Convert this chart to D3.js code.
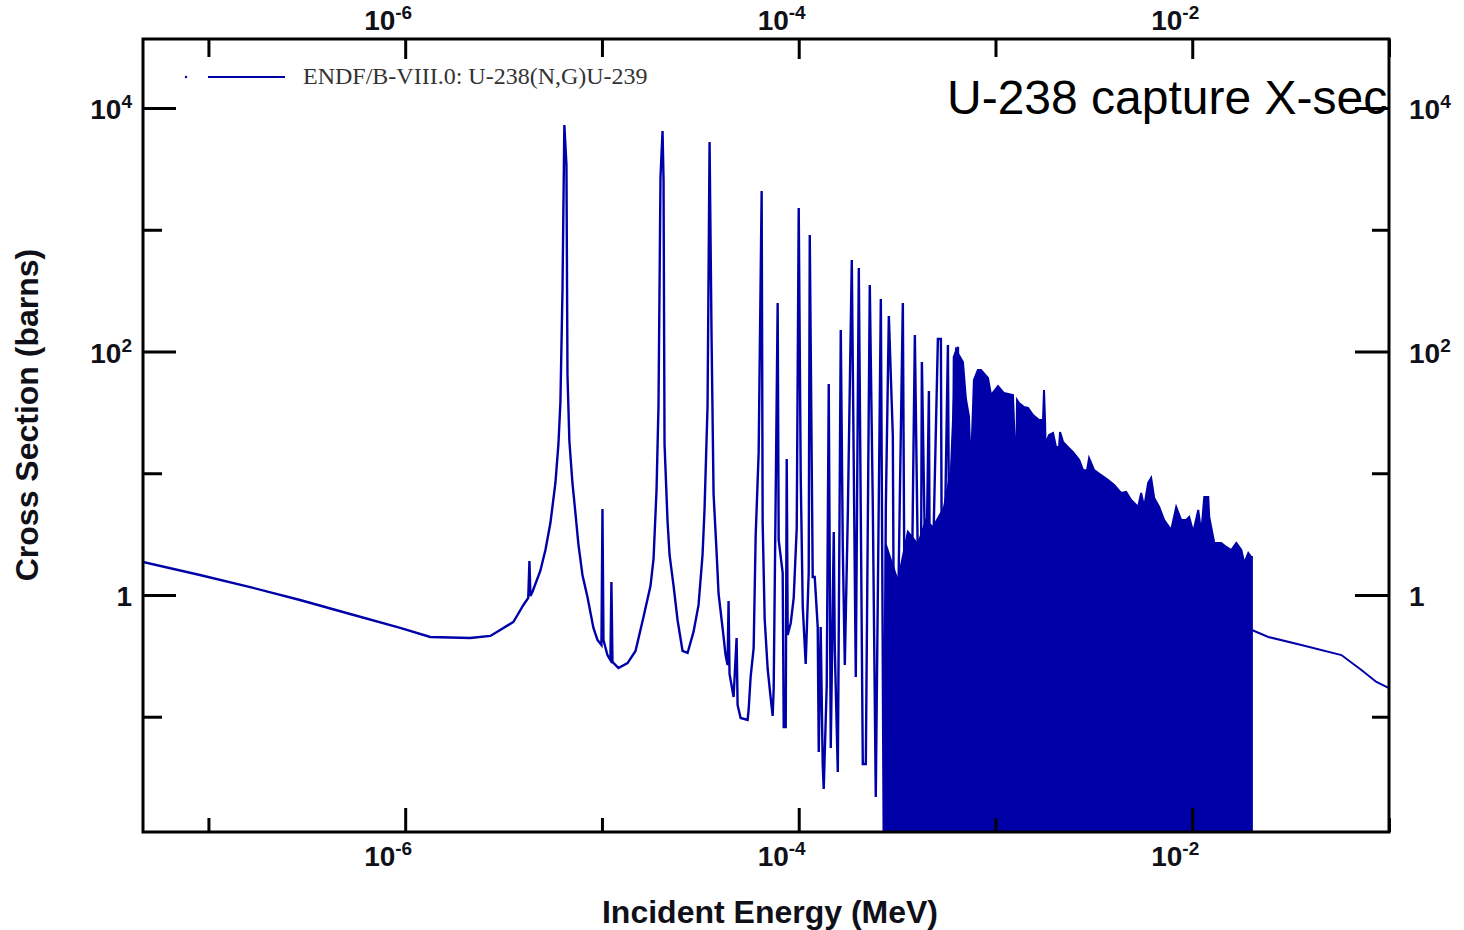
<!DOCTYPE html>
<html>
<head>
<meta charset="utf-8">
<script src="https://cdn.jsdelivr.net/npm/d3@7"></script>
<style>
  body { margin: 0; background: #fff; }
  svg { display: block; }
</style>
</head>
<body>
<script>
//Width and height
var w = 1464;
var h = 930;

//Resolved part: incident energy (MeV) and capture cross section (barns)
var lineEnergy = [
  4.64e-8, 9.05e-8, 1.63e-7, 2.92e-7, 5.25e-7, 9.43e-7, 1.34e-6, 2.14e-6, 2.71e-6,
  3.545e-6, 3.99e-6, 4.22e-6, 4.28e-6, 4.33e-6, 4.43e-6, 4.86e-6, 5.16e-6, 5.47e-6, 5.80e-6,
  6.01e-6, 6.15e-6, 6.30e-6, 6.44e-6, 6.60e-6, 6.68e-6, 6.83e-6, 7.08e-6, 7.33e-6, 7.59e-6,
  7.96e-6, 8.44e-6, 9.05e-6, 9.49e-6, 9.94e-6, 1.006e-5, 1.018e-5, 1.066e-5, 1.104e-5, 1.117e-5,
  1.131e-5, 1.213e-5, 1.349e-5, 1.481e-5, 1.626e-5, 1.765e-5, 1.829e-5, 1.894e-5, 1.938e-5, 1.984e-5,
  2.032e-5, 2.056e-5, 2.080e-5, 2.154e-5, 2.206e-5, 2.312e-5, 2.422e-5, 2.568e-5, 2.723e-5, 2.920e-5,
  3.097e-5, 3.245e-5, 3.322e-5, 3.441e-5, 3.523e-5, 3.606e-5, 3.692e-5, 3.824e-5, 3.915e-5, 4.102e-5,
  4.249e-5, 4.35e-5, 4.40e-5, 4.45e-5, 4.667e-5, 4.834e-5, 4.89e-5, 5.066e-5, 5.499e-5, 5.565e-5,
  5.696e-5, 5.902e-5, 6.042e-5, 6.257e-5, 6.481e-5, 6.558e-5, 6.714e-5, 6.953e-5, 7.202e-5, 7.373e-5,
  7.46e-5, 7.817e-5, 7.909e-5, 8.29e-5, 8.39e-5, 8.59e-5, 8.69e-5, 8.79e-5, 9.11e-5, 9.43e-5,
  9.77e-5, 1.000e-4, 1.024e-4, 1.048e-4, 1.085e-4, 1.124e-4, 1.138e-4, 1.178e-4, 1.206e-4, 1.249e-4,
  1.264e-4, 1.293e-4, 1.324e-4, 1.340e-4, 1.388e-4, 1.421e-4, 1.455e-4, 1.507e-4, 1.525e-4, 1.580e-4,
  1.636e-4, 1.675e-4, 1.715e-4, 1.776e-4, 1.861e-4, 1.950e-4, 2.020e-4, 2.117e-4, 2.193e-4, 2.297e-4,
  2.379e-4, 2.464e-4, 2.614e-4, 2.707e-4, 2.772e-4, 2.871e-4, 3.008e-4, 3.08e-4, 3.19e-4, 3.382e-4,
  3.503e-4, 3.587e-4, 3.715e-4, 3.893e-4, 4.033e-4, 4.13e-4, 4.226e-4, 4.429e-4, 4.588e-4, 4.695e-4,
  4.807e-4, 5.097e-4, 5.279e-4, 5.404e-4, 5.468e-4, 5.731e-4, 5.935e-4, 6.148e-4, 6.444e-4, 6.675e-4
];
var lineXs = [
  1.87, 1.46, 1.16, 0.91, 0.698, 0.536, 0.452, 0.443, 0.461,
  0.600, 0.828, 0.945, 1.90, 0.981, 1.058, 1.574, 2.34, 3.90, 8.32,
  17.4, 38.5, 314, 7255, 3405, 64.1, 18.4, 8.32, 4.72, 2.62,
  1.46, 0.963, 0.536, 0.427, 0.388, 5.09, 0.427, 0.321, 0.292, 1.28,
  0.282, 0.251, 0.276, 0.347, 0.660, 1.19, 1.98, 7.29, 35.7, 2713,
  6476, 2564, 17.4, 4.05, 2.13, 1.19, 0.623, 0.347, 0.334, 0.497,
  0.828, 2.13, 5.09, 35.7, 5260, 131.6, 6.75, 2.26, 1.019, 0.536,
  0.321, 0.266, 0.893, 0.2245, 0.1453, 0.443, 0.1249, 0.0976, 0.0940, 0.1136,
  0.212, 0.367, 3.05, 14.7, 2082, 3.90, 0.635, 0.2467, 0.1426, 0.1014,
  0.169, 250, 2.83, 1.52, 0.0823, 0.0823, 13.1, 0.469, 0.589, 0.945,
  3.55, 1510, 9.14, 0.812, 0.271, 1.52, 906, 1.405, 1.405, 0.546,
  0.0513, 0.546, 0.0409, 0.0255, 0.182, 54.1, 0.0554, 3.29, 0.367, 0.0352,
  150, 2.43, 0.266, 4.54, 565, 0.212, 485, 0.0409, 0.0409, 352,
  5.70, 0.0219, 270, 0.008, 5.28, 196, 20.2, 0.008, 0.546, 250,
  0.008, 1.76, 0.2467, 136.6, 1.76, 0.008, 82.0, 0.812, 47.4, 0.008,
  1.76, 126.7, 126.7, 0.008, 1.019, 113.1, 0.008, 90.1, 109, 0.008
];

//Dense resonance region: upper edge of the resonance forest
var bandEnergy = [
  2.772e-4, 3.19e-4, 3.587e-4, 4.033e-4, 4.429e-4, 4.807e-4, 5.468e-4, 5.935e-4, 6.295e-4, 6.834e-4,
  7.076e-4, 7.33e-4, 7.50e-4, 7.77e-4, 8.14e-4, 8.44e-4, 9.16e-4, 9.49e-4, 1.030e-3, 1.104e-3,
  1.227e-3, 1.272e-3, 1.287e-3, 1.317e-3, 1.396e-3, 1.463e-3, 1.552e-3, 1.664e-3, 1.744e-3, 1.765e-3,
  1.786e-3, 1.807e-3, 1.829e-3, 1.872e-3, 1.962e-3, 2.032e-3, 2.104e-3, 2.129e-3, 2.205e-3, 2.338e-3,
  2.479e-3, 2.660e-3, 2.788e-3, 2.921e-3, 2.991e-3, 3.171e-3, 3.442e-3, 3.737e-3, 4.009e-3, 4.35e-3,
  4.613e-3, 4.893e-3, 5.311e-3, 5.50e-3, 5.696e-3, 5.97e-3, 6.184e-3, 6.406e-3, 6.792e-3, 7.202e-3,
  7.817e-3, 8.29e-3, 8.79e-3, 9.32e-3, 9.65e-3, 1.012e-2, 1.073e-2, 1.111e-2, 1.151e-2, 1.206e-2,
  1.220e-2, 1.294e-2, 1.404e-2, 1.489e-2, 1.579e-2, 1.675e-2, 1.776e-2, 1.839e-2, 1.927e-2, 1.996e-2,
  2.01e-2
];
var bandXs = [
  2.6, 1.3, 3.3, 2.6, 4.1, 3.6, 5.2, 10.5, 102.9, 82.0,
  40.7, 29.5, 10.8, 58.3, 70.5, 70.5, 60.6, 43.9, 52.1, 45.6,
  43.9, 9.32, 40.0, 37.8, 35.0, 34.4, 30.1, 27.4, 27.4, 48.3,
  27.4, 11.0, 18.8, 20.6, 21.4, 16.4, 16.4, 21.8, 18.1, 16.4,
  14.9, 12.9, 10.6, 10.6, 13.3, 10.6, 9.68, 8.80, 8.01, 6.88,
  7.02, 6.03, 5.28, 6.88, 5.28, 8.32, 9.14, 6.26, 5.28, 4.13,
  3.42, 5.28, 4.13, 4.13, 4.37, 3.29, 4.99, 3.23, 6.38, 6.38,
  4.37, 2.67, 2.67, 2.48, 2.34, 2.67, 2.34, 1.83, 2.21, 2.05,
  2.05
];

//Above 20 keV
var tailEnergy = [2.01e-2, 2.436e-2, 3.587e-2, 5.73e-2, 7.24e-2, 8.63e-2, 1e-1];
var tailXs = [0.516, 0.452, 0.388, 0.321, 0.242, 0.193, 0.172];

//Ticks
var xMajorTicks = [1e-6, 1e-4, 1e-2];
var xMinorTicks = [1e-7, 1e-5, 1e-3, 1e-1];
var xTickExp = ["-6", "-4", "-2"];
var yMajorTicks = [1, 1e2, 1e4];
var yMinorTicks = [1e-1, 1e1, 1e3];
var yTickExp = ["", "2", "4"];

var legendText = "ENDF/B-VIII.0: U-238(N,G)U-239";
var titleText = "U-238 capture X-sec";

//Plot frame (window.top is reserved, so prefixed names)
var pLeft = 143, pRight = 1389, pTop = 39, pBottom = 832;
var blue = "#0000a8";
var ink = "#101018";

var xScale = d3.scaleLog().domain([4.65e-8, 0.1]).range([pLeft, pRight]);
var yScale = d3.scaleLog().domain([0.0113, 36900]).range([pBottom, pTop]);

var svg = d3.select("body").append("svg")
  .attr("width", w)
  .attr("height", h);

svg.append("clipPath").attr("id", "plot")
  .append("rect")
  .attr("x", pLeft).attr("y", pTop)
  .attr("width", pRight - pLeft).attr("height", pBottom - pTop);

var plot = svg.append("g").attr("clip-path", "url(#plot)");

var lineData = lineEnergy.map(function(e, i) { return { e: e, s: lineXs[i] }; });
var bandData = bandEnergy.map(function(e, i) { return { e: e, s: bandXs[i] }; });
var tailData = tailEnergy.map(function(e, i) { return { e: e, s: tailXs[i] }; });

var line = d3.line()
  .x(function(d) { return xScale(d.e); })
  .y(function(d) { return yScale(d.s); });

var area = d3.area()
  .x(function(d) { return xScale(d.e); })
  .y0(pBottom)
  .y1(function(d) { return yScale(d.s); });

plot.append("path")
  .datum(bandData)
  .attr("d", area)
  .attr("fill", blue)
  .attr("stroke", blue)
  .attr("stroke-width", 2);

plot.append("path")
  .datum(lineData)
  .attr("d", line)
  .attr("fill", "none")
  .attr("stroke", blue)
  .attr("stroke-width", 2.4);

plot.append("path")
  .datum(tailData)
  .attr("d", line)
  .attr("fill", "none")
  .attr("stroke", blue)
  .attr("stroke-width", 2);

//Axes (ticks only, labels drawn below)
function styleAxis(g) {
  g.select(".domain").remove();
  g.selectAll(".tick line").attr("stroke", "#000").attr("stroke-width", 3);
  g.selectAll(".tick text").remove();
}

svg.append("g").attr("transform", "translate(0," + pBottom + ")")
  .call(d3.axisBottom(xScale).tickValues(xMajorTicks).tickSizeInner(-24).tickSizeOuter(0)).call(styleAxis);
svg.append("g").attr("transform", "translate(0," + pBottom + ")")
  .call(d3.axisBottom(xScale).tickValues(xMinorTicks).tickSizeInner(-14).tickSizeOuter(0)).call(styleAxis);
svg.append("g").attr("transform", "translate(0," + pTop + ")")
  .call(d3.axisTop(xScale).tickValues(xMajorTicks).tickSizeInner(-20).tickSizeOuter(0)).call(styleAxis);
svg.append("g").attr("transform", "translate(0," + pTop + ")")
  .call(d3.axisTop(xScale).tickValues(xMinorTicks).tickSizeInner(-18).tickSizeOuter(0)).call(styleAxis);
svg.append("g").attr("transform", "translate(" + pLeft + ",0)")
  .call(d3.axisLeft(yScale).tickValues(yMajorTicks).tickSizeInner(-33).tickSizeOuter(0)).call(styleAxis);
svg.append("g").attr("transform", "translate(" + pLeft + ",0)")
  .call(d3.axisLeft(yScale).tickValues(yMinorTicks).tickSizeInner(-19).tickSizeOuter(0)).call(styleAxis);
svg.append("g").attr("transform", "translate(" + pRight + ",0)")
  .call(d3.axisRight(yScale).tickValues(yMajorTicks).tickSizeInner(-34).tickSizeOuter(0)).call(styleAxis);
svg.append("g").attr("transform", "translate(" + pRight + ",0)")
  .call(d3.axisRight(yScale).tickValues(yMinorTicks).tickSizeInner(-17).tickSizeOuter(0)).call(styleAxis);

//Frame
svg.append("rect")
  .attr("x", pLeft).attr("y", pTop)
  .attr("width", pRight - pLeft).attr("height", pBottom - pTop)
  .attr("fill", "none")
  .attr("stroke", "#000")
  .attr("stroke-width", 3);

//Power-of-ten labels
function powerLabel(sel, exps) {
  sel.each(function(d, i) {
    var t = d3.select(this);
    if (exps[i] === "") { t.text("1"); return; }
    t.append("tspan").text("10");
    t.append("tspan").attr("font-size", 19).attr("dy", -11).text(exps[i]);
  });
}

var labelFont = "'Liberation Sans', Arial, sans-serif";

[30, 866].forEach(function(yy) {
  svg.append("g").selectAll("text")
    .data(xMajorTicks)
    .enter().append("text")
    .attr("x", function(d) { return xScale(d) + 7; })
    .attr("y", yy)
    .attr("text-anchor", "end")
    .attr("font-family", labelFont)
    .attr("font-weight", "bold")
    .attr("font-size", 28)
    .attr("fill", ink)
    .call(powerLabel, xTickExp);
});

svg.append("g").selectAll("text")
  .data(yMajorTicks)
  .enter().append("text")
  .attr("x", 132)
  .attr("y", function(d) { return yScale(d) + 11; })
  .attr("text-anchor", "end")
  .attr("font-family", labelFont)
  .attr("font-weight", "bold")
  .attr("font-size", 28)
  .attr("fill", ink)
  .call(powerLabel, yTickExp);

svg.append("g").selectAll("text")
  .data(yMajorTicks)
  .enter().append("text")
  .attr("x", 1409)
  .attr("y", function(d) { return yScale(d) + 11; })
  .attr("text-anchor", "start")
  .attr("font-family", labelFont)
  .attr("font-weight", "bold")
  .attr("font-size", 28)
  .attr("fill", ink)
  .call(powerLabel, yTickExp);

//Axis titles
svg.append("text")
  .attr("x", 770).attr("y", 923)
  .attr("text-anchor", "middle")
  .attr("font-family", labelFont)
  .attr("font-weight", "bold")
  .attr("font-size", 32)
  .attr("fill", ink)
  .text("Incident Energy (MeV)");

svg.append("text")
  .attr("transform", "translate(38,415) rotate(-90)")
  .attr("text-anchor", "middle")
  .attr("font-family", labelFont)
  .attr("font-weight", "bold")
  .attr("font-size", 32)
  .attr("fill", ink)
  .text("Cross Section (barns)");

//Legend
svg.append("circle").attr("cx", 186).attr("cy", 77).attr("r", 1.2).attr("fill", blue);
svg.append("line")
  .attr("x1", 208).attr("x2", 285).attr("y1", 77).attr("y2", 77)
  .attr("stroke", blue).attr("stroke-width", 2);
svg.append("text")
  .attr("x", 303).attr("y", 84)
  .attr("font-family", "'Liberation Serif', 'Times New Roman', serif")
  .attr("font-size", 24)
  .attr("fill", "#333")
  .text(legendText);

//Title
svg.append("text")
  .attr("x", 947).attr("y", 114)
  .attr("font-family", labelFont)
  .attr("font-size", 48)
  .attr("fill", "#000")
  .text(titleText);
</script>
</body>
</html>
